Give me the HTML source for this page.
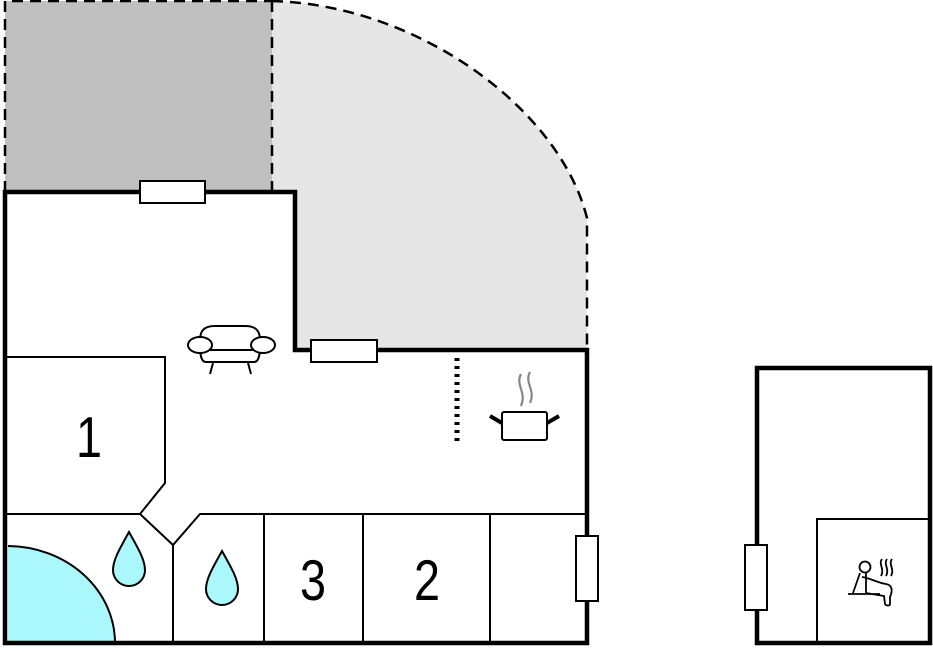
<!DOCTYPE html>
<html><head><meta charset="utf-8"><style>html,body{margin:0;padding:0;background:#fff}svg{display:block}</style></head>
<body>
<svg width="933" height="652" viewBox="0 0 933 652" xmlns="http://www.w3.org/2000/svg" font-family="Liberation Sans, sans-serif">
<rect x="5" y="1" width="267" height="191" fill="#c0c0c0"/>
<path d="M272,1 C420,5 560,110 587,218 L587,350 L295,350 L295,192 L272,192 Z" fill="#e6e6e6"/>
<g fill="none" stroke="#000" stroke-width="2.5" stroke-dasharray="11,7">
<path d="M5,192 L5,1 L272,1"/>
<path d="M272,1 L272,192"/>
<path d="M272,1 C420,5 560,110 587,218 L587,350"/>
</g>
<path d="M8,546 A108,97 0 0 1 115,643 L8,643 Z" fill="#aaf8fb"/>
<path d="M8,546 A108,97 0 0 1 115,643" fill="none" stroke="#000" stroke-width="2"/>
<g fill="none" stroke="#000" stroke-width="2">
<path d="M7,357 L165,357 L165,483 L140,514 L7,514"/>
<path d="M140,514 L173,545 L200,514 L587,514"/>
<path d="M173,545 L173,643 M264,514 L264,643 M363,514 L363,643 M490,514 L490,643"/>
<path d="M817,643 L817,519 L930,519"/>
</g>
<path d="M5,192 L295,192 L295,350 L587,350 L587,643 L5,643 Z" fill="none" stroke="#000" stroke-width="4.5"/>
<rect x="757" y="368" width="173" height="275" fill="none" stroke="#000" stroke-width="4.5"/>
<g fill="#fff" stroke="#000" stroke-width="2">
<rect x="140" y="181" width="65" height="22"/>
<rect x="311" y="340" width="66" height="22"/>
<rect x="576" y="536" width="22" height="65"/>
<rect x="745" y="545" width="22" height="65"/>
</g>
<g fill="#aaf8fb" stroke="#000" stroke-width="2">
<path d="M129,532 C120,548 113,560 113,570 A16,16 0 0 0 145,570 C145,560 138,548 129,532 Z"/>
<path d="M222,551 C213,567 206,579 206,589 A16,16 0 0 0 238,589 C238,579 231,567 222,551 Z"/>
</g>
<line x1="457" y1="358" x2="457" y2="445" stroke="#000" stroke-width="5" stroke-dasharray="3,5"/>
<g fill="#fff" stroke="#000" stroke-width="2">
<path d="M206,362 C200,362 200,350 200,345 L200,340 C200,330 205,326 215,326 L245,326 C255,326 260,330 260,340 L260,345 C260,350 260,362 254,362 Z"/>
<ellipse cx="200" cy="345" rx="12" ry="8"/>
<ellipse cx="263" cy="345" rx="12" ry="8"/>
<path d="M209,350 L253,350" fill="none"/>
<path d="M213,363 L210,374 M248,363 L251,374" fill="none"/>
</g>
<g fill="none" stroke="#000" stroke-width="2">
<rect x="502" y="412" width="45" height="28" rx="2"/>
<path d="M502,423 L490,416 M547,423 L559,416" stroke-width="4"/>
</g>
<g fill="none" stroke="#888" stroke-width="2.2">
<path d="M521,374 C515,385 527,392 521,406"/>
<path d="M530,372 C524,383 536,390 530,403"/>
</g>
<g fill="none" stroke="#000" stroke-width="1.8">
<circle cx="865" cy="567" r="5.5"/>
<path d="M860,573 L853,593 M866,573 L866,593 M862,577 C870,578 878,583 886,584 C892,585 893,590 890,597 L890,604 C890,606 886,606 885,604 L884,596 L866,593 M848,594 L880,594"/>
<path d="M882,559 C878,564 885,569 881,576 M887,559 C883,564 890,569 886,576 M892,559 C888,564 895,569 891,576"/>
</g>
<g font-size="52" fill="#000" text-anchor="middle">
<text transform="translate(89,457) scale(0.9,1.1)">1</text>
<text transform="translate(313,600) scale(0.9,1.1)">3</text>
<text transform="translate(427,600) scale(0.9,1.1)">2</text>
</g>
</svg>
</body></html>
